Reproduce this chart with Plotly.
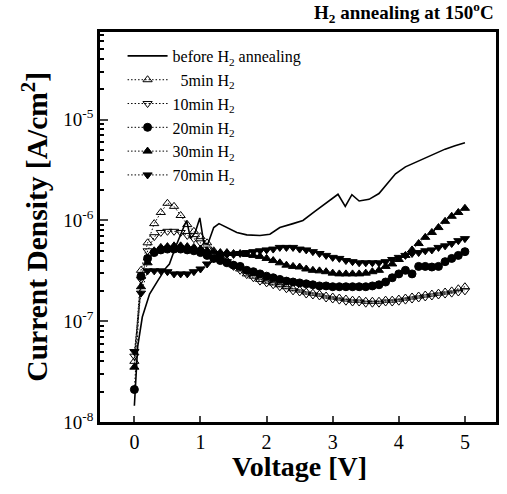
import plotly.graph_objects as go

voltage = [round(0.1 * i, 1) for i in range(51)]

j_5min = [4.0e-8, 3.2e-7, 6.0e-7, 9.3e-7, 1.2e-6, 1.48e-6, 1.38e-6, 1.12e-6, 9.1e-7, 7.8e-7,
          6.9e-7, 6.0e-7, 5.0e-7, 4.4e-7, 4.0e-7, 3.6e-7, 3.3e-7, 2.95e-7, 2.8e-7, 2.6e-7,
          2.5e-7, 2.4e-7, 2.3e-7, 2.2e-7, 2.1e-7, 2.04e-7, 1.95e-7, 1.9e-7, 1.86e-7, 1.78e-7,
          1.74e-7, 1.7e-7, 1.66e-7, 1.62e-7, 1.62e-7, 1.58e-7, 1.58e-7, 1.58e-7, 1.62e-7, 1.62e-7,
          1.66e-7, 1.7e-7, 1.74e-7, 1.78e-7, 1.82e-7, 1.86e-7, 1.9e-7, 1.95e-7, 2.0e-7, 2.1e-7,
          2.2e-7]

j_10min = [4.5e-8, 2.6e-7, 5.0e-7, 6.9e-7, 7.6e-7, 7.8e-7, 7.8e-7, 7.6e-7, 7.1e-7, 6.6e-7,
           6.0e-7, 5.2e-7, 4.7e-7, 4.3e-7, 3.9e-7, 3.5e-7, 3.2e-7, 2.9e-7, 2.7e-7, 2.5e-7,
           2.4e-7, 2.3e-7, 2.2e-7, 2.1e-7, 2.0e-7, 1.95e-7, 1.86e-7, 1.82e-7, 1.78e-7, 1.7e-7,
           1.66e-7, 1.62e-7, 1.58e-7, 1.55e-7, 1.55e-7, 1.51e-7, 1.51e-7, 1.51e-7, 1.55e-7, 1.55e-7,
           1.58e-7, 1.62e-7, 1.66e-7, 1.7e-7, 1.74e-7, 1.78e-7, 1.82e-7, 1.86e-7, 1.9e-7, 1.95e-7,
           2.0e-7]

j_20min = [2.1e-8, 2.8e-7, 4.2e-7, 4.8e-7, 5.1e-7, 5.2e-7, 5.2e-7, 5.2e-7, 5.1e-7, 5.0e-7,
           4.8e-7, 4.5e-7, 4.2e-7, 4.0e-7, 3.8e-7, 3.6e-7, 3.5e-7, 3.2e-7, 3.1e-7, 2.95e-7,
           2.8e-7, 2.7e-7, 2.6e-7, 2.5e-7, 2.45e-7, 2.4e-7, 2.35e-7, 2.3e-7, 2.24e-7, 2.24e-7,
           2.2e-7, 2.2e-7, 2.2e-7, 2.2e-7, 2.2e-7, 2.2e-7, 2.24e-7, 2.3e-7, 2.45e-7, 2.7e-7,
           2.95e-7, 3.2e-7, 2.95e-7, 3.5e-7, 3.5e-7, 3.45e-7, 3.5e-7, 3.9e-7, 4.2e-7, 4.5e-7,
           4.9e-7]

j_30min = [3.5e-8, 2.2e-7, 3.8e-7, 5.0e-7, 5.4e-7, 5.5e-7, 5.6e-7, 5.6e-7, 5.5e-7, 5.4e-7,
           5.2e-7, 5.0e-7, 4.9e-7, 4.8e-7, 4.8e-7, 4.7e-7, 4.7e-7, 4.6e-7, 4.5e-7, 4.4e-7,
           4.2e-7, 4.0e-7, 3.8e-7, 3.6e-7, 3.5e-7, 3.45e-7, 3.3e-7, 3.2e-7, 3.16e-7, 3.1e-7,
           3.0e-7, 2.95e-7, 2.95e-7, 2.95e-7, 2.95e-7, 3.0e-7, 3.1e-7, 3.2e-7, 3.5e-7, 3.7e-7,
           4.1e-7, 4.5e-7, 5.1e-7, 5.9e-7, 6.8e-7, 7.6e-7, 8.5e-7, 9.8e-7, 1.1e-6, 1.2e-6,
           1.32e-6]

j_70min = [5.0e-8, 1.9e-7, 3.16e-7, 3.16e-7, 3.16e-7, 3.1e-7, 2.95e-7, 2.95e-7, 2.95e-7, 3.1e-7,
           3.3e-7, 3.7e-7, 4.2e-7, 4.5e-7, 4.6e-7, 4.6e-7, 4.7e-7, 4.8e-7, 4.9e-7, 5.0e-7,
           5.1e-7, 5.2e-7, 5.4e-7, 5.4e-7, 5.4e-7, 5.2e-7, 5.1e-7, 4.9e-7, 4.7e-7, 4.5e-7,
           4.3e-7, 4.2e-7, 4.0e-7, 3.9e-7, 3.8e-7, 3.8e-7, 3.8e-7, 3.8e-7, 3.9e-7, 4.1e-7,
           4.3e-7, 4.5e-7, 4.7e-7, 4.8e-7, 5.0e-7, 5.1e-7, 5.4e-7, 5.6e-7, 5.9e-7, 6.3e-7,
           6.6e-7]

before_v = [0.0, 0.05, 0.12, 0.23, 0.35, 0.48, 0.53, 0.62, 0.72, 0.79, 0.85, 0.92, 0.99, 1.05,
            1.11, 1.2, 1.28, 1.4, 1.55, 1.7, 1.9, 2.05, 2.2, 2.4, 2.55, 2.73, 2.9, 3.08, 3.19,
            3.29, 3.4, 3.55, 3.7, 3.85, 3.95, 4.1, 4.3, 4.5, 4.7, 4.85, 5.0]
before_j = [1.45e-8, 5.6e-8, 1.1e-7, 1.86e-7, 2.5e-7, 3.4e-7, 3.7e-7, 5.4e-7, 7.8e-7, 1.0e-6,
            6.6e-7, 7.6e-7, 1.06e-6, 6.0e-7, 5.8e-7, 8.5e-7, 9.3e-7, 8.5e-7, 7.6e-7, 7.2e-7,
            7.1e-7, 7.3e-7, 8.5e-7, 9.3e-7, 1.0e-6, 1.23e-6, 1.5e-6, 1.82e-6, 1.38e-6, 1.8e-6,
            1.56e-6, 1.62e-6, 1.85e-6, 2.4e-6, 2.9e-6, 3.4e-6, 3.9e-6, 4.5e-6, 5.1e-6, 5.5e-6,
            5.9e-6]

names = ["before H<sub>2</sub> annealing", "\u00a0\u00a05min H<sub>2</sub>", "10min H<sub>2</sub>",
         "20min H<sub>2</sub>", "30min H<sub>2</sub>", "70min H<sub>2</sub>"]
y_ticks = [1e-8, 1e-7, 1e-6, 1e-5]
y_ticktext = ["10<sup>-8</sup>", "10<sup>-7</sup>", "10<sup>-6</sup>", "10<sup>-5</sup>"]
x_ticks = [0, 1, 2, 3, 4, 5]

SERIF = "Liberation Serif, Times New Roman, serif"

fig = go.Figure()
fig.add_trace(go.Scatter(x=before_v, y=before_j, mode="lines", name=names[0],
                         line=dict(color="black", width=1.6)))
marker_specs = [
    (j_5min, "triangle-up-open"),
    (j_10min, "triangle-down-open"),
    (j_20min, "circle"),
    (j_30min, "triangle-up"),
    (j_70min, "triangle-down"),
]
for (ys, sym), nm in zip(marker_specs, names[1:]):
    fig.add_trace(go.Scatter(
        x=voltage, y=ys, mode="lines+markers", name=nm,
        line=dict(color="black", width=1, dash="1.5px,2px"),
        marker=dict(symbol=sym, size=8, color="black",
                    line=dict(color="black", width=1)),
    ))

fig.update_layout(
    width=507, height=494,
    margin=dict(l=100, r=8, t=32, b=72),
    paper_bgcolor="white", plot_bgcolor="white",
    font=dict(family=SERIF, color="black", size=20),
    showlegend=True,
    legend=dict(x=0.057, y=0.982, xanchor="left", yanchor="top",
                bgcolor="rgba(0,0,0,0)", font=dict(size=16, family=SERIF),
                tracegroupgap=0, itemwidth=40),
    annotations=[
        dict(text="<b>H<sub>2</sub> annealing at 150<sup>o</sup>C</b>", xref="paper", yref="paper",
             x=1.0, y=1.0, xanchor="right", yanchor="bottom", yshift=4, showarrow=False,
             font=dict(size=19, family=SERIF)),
        dict(text="<b>Voltage [V]</b>", xref="paper", yref="paper", x=0.505, y=-0.115,
             xanchor="center", yanchor="middle", showarrow=False,
             font=dict(size=28, family=SERIF)),
        dict(text="<b>Current Density [A/cm<sup>2</sup>]</b>", xref="paper", yref="paper",
             x=-0.165, y=0.5, xanchor="center", yanchor="middle", textangle=-90,
             showarrow=False, font=dict(size=29.5, family=SERIF)),
    ],
)
fig.update_xaxes(range=[-0.52, 5.47], tickvals=x_ticks, ticks="inside", ticklen=6,
                 tickwidth=2, showgrid=False, zeroline=False, showline=True,
                 linecolor="black", linewidth=2.5, mirror=True,
                 tickfont=dict(size=20, family=SERIF))
fig.update_yaxes(type="log", range=[-8, -4.13], tickvals=y_ticks, ticktext=y_ticktext,
                 ticks="inside", ticklen=8, tickwidth=2, showgrid=False, zeroline=False,
                 showline=True, linecolor="black", linewidth=2.5, mirror=True,
                 tickfont=dict(size=19, family=SERIF),
                 minor=dict(ticks="inside", ticklen=4, tickwidth=1.5, dtick="D1",
                            tickcolor="black", showgrid=False))

fig.write_html("out.html", config={"displayModeBar": False},
               post_script="document.body.style.margin='0';document.body.style.overflow='hidden';")
